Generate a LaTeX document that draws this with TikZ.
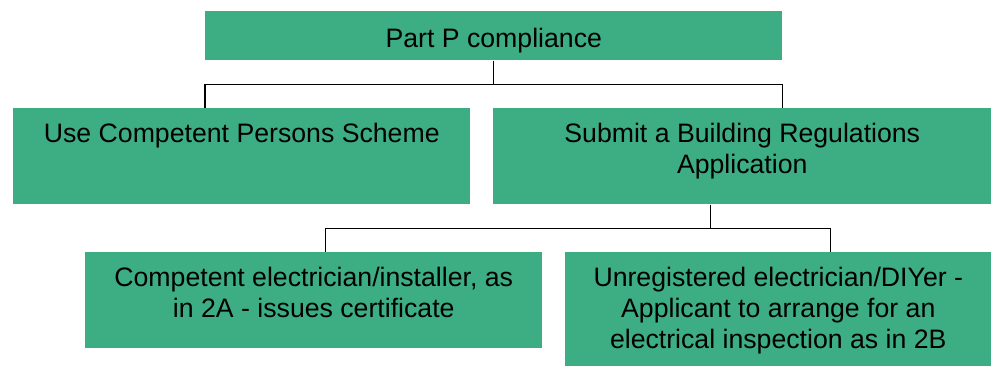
\documentclass[tikz,border=0pt]{standalone}
\usepackage{fontspec}
\setmainfont{Liberation Sans}
\usetikzlibrary{positioning}
\definecolor{partgreen}{RGB}{61,174,132}
\tikzset{
    stage/.style={fill=partgreen, inner sep=0pt, anchor=north west},
    caption/.style={inner sep=0pt, align=center, font=\fontsize{20}{23.25}\selectfont},
    link/.style={line width=0.9pt},
}
\begin{document}
\begin{tikzpicture}[x=0.75pt, y=-0.75pt]
        \useasboundingbox (0,0) rectangle (991,366);
        \node [stage, caption, text height=17pt, text depth=0pt, minimum width=432.75pt, minimum height=36.75pt] (part) at (205,11) {Part P compliance};
        \node [stage, minimum width=342.75pt, minimum height=72pt] (cps) at (13,108) {};
        \node [stage, minimum width=373.5pt, minimum height=72pt] (bra) at (493,108) {};
        \node [stage, minimum width=342.75pt, minimum height=72pt] (cert) at (85,252) {};
        \node [stage, minimum width=319.5pt, minimum height=85.5pt] (insp) at (565,252) {};
        \node [caption, below=11.25pt of cps.north] (cpstext) {Use Competent Persons Scheme};
        \node [caption, below=11.25pt of bra.north] (bratext) {Submit a Building Regulations\\Application};
        \node [caption, below=11.25pt of cert.north] (certtext) {Competent electrician/installer, as\\in 2A - issues certificate};
        \node [caption, below=11.25pt of insp.north] (insptext) {Unregistered electrician/DIYer -\\Applicant to arrange for an\\electrical inspection as in 2B};
        \draw [link] (part.south) -- ++(0,24) -| (part.south west |- cps.north);
        \draw [link] (part.south) -- ++(0,24) -| (part.south east |- bra.north);
        \draw [link] ([xshift=-24pt]bra.south) -- ++(0,24) -| ([xshift=8.6pt]cert.north);
        \draw [link] ([xshift=-24pt]bra.south) -- ++(0,24) -| ([xshift=39pt]insp.north);
\end{tikzpicture}
\end{document}
